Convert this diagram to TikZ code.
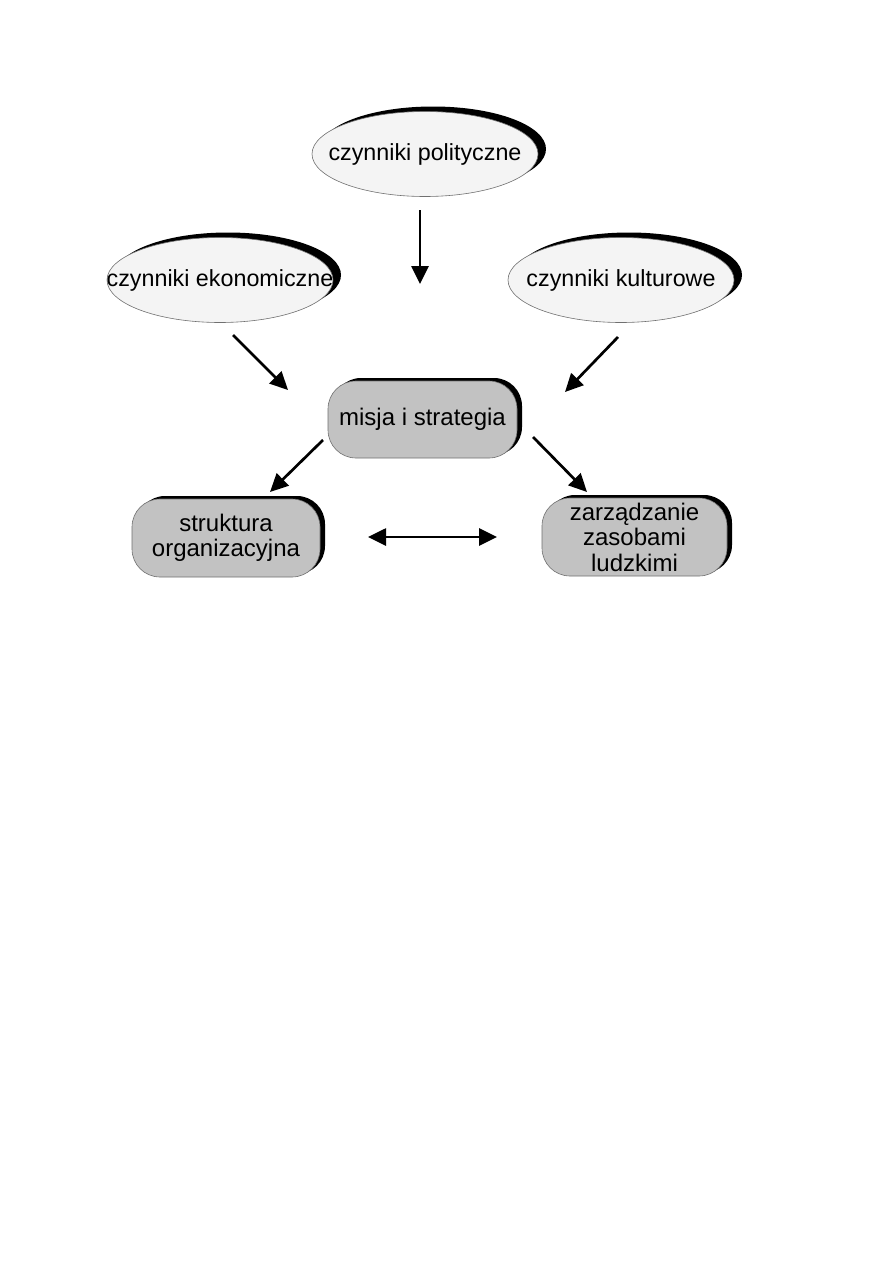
\documentclass[tikz,border=0pt]{standalone}
\usepackage{fontspec}
\setmainfont{Liberation Sans}
\usetikzlibrary{arrows.meta,shapes.geometric,shadows}
\definecolor{ellfill}{HTML}{F4F4F4}
\definecolor{boxfill}{HTML}{C2C2C2}
\definecolor{edgegray}{HTML}{707070}
\begin{document}
\begin{tikzpicture}[x=1pt,y=-1pt,
  ellnode/.style={ellipse, draw=edgegray, line width=0.6pt, fill=ellfill,
    minimum width=226pt, minimum height=85pt, inner sep=0pt,
    font=\fontsize{23.3}{26}\selectfont,
    general shadow={fill=black, shadow xshift=8pt, shadow yshift=5pt}},
  boxnode/.style={rectangle, rounded corners=28pt, draw=edgegray, line width=0.6pt,
    fill=boxfill, inner sep=0pt, align=center,
    font=\fontsize{24}{25.5}\selectfont,
    general shadow={fill=black, shadow xshift=5pt, shadow yshift=3pt}},
  arr/.style={line width=2.7pt, -{Triangle[length=18pt,width=17pt]}},
  darr/.style={line width=2.7pt, {Triangle[length=18pt,width=17pt]}-{Triangle[length=18pt,width=17pt]}}
]
\useasboundingbox (0,0) rectangle (893,1263);
\fill[white] (0,0) rectangle (893,1263);

\node[ellnode] (pol) at (425,154) {\makebox[0pt]{czynniki polityczne}};
\node[ellnode] (eko) at (220,280) {\makebox[0pt]{czynniki ekonomiczne}};
\node[ellnode] (kul) at (621,280) {\makebox[0pt]{czynniki kulturowe}};

\node[boxnode, minimum width=189pt, minimum height=77pt] (mis) at (422.5,419.5) {misja i strategia};
\node[boxnode, minimum width=188pt, minimum height=78pt] (str) at (226,538) {struktura\\organizacyjna};
\node[boxnode, minimum width=185pt, minimum height=78pt] (zar) at (634.5,537) {zarządzanie\\zasobami\\ludzkimi};

\coordinate (a1s) at (420,210);  \coordinate (a1e) at (420,284);
\coordinate (a2s) at (233,335);  \coordinate (a2e) at (288,390);
\coordinate (a3s) at (618,337);  \coordinate (a3e) at (565,392);
\coordinate (a4s) at (323,440);  \coordinate (a4e) at (270,492);
\coordinate (a5s) at (533,437);  \coordinate (a5e) at (587,492);
\coordinate (a6s) at (368,537);  \coordinate (a6e) at (497,537);

\draw[arr] (a1s) -- (a1e);
\draw[arr] (a2s) -- (a2e);
\draw[arr] (a3s) -- (a3e);
\draw[arr] (a4s) -- (a4e);
\draw[arr] (a5s) -- (a5e);
\draw[darr] (a6s) -- (a6e);
\end{tikzpicture}
\end{document}
